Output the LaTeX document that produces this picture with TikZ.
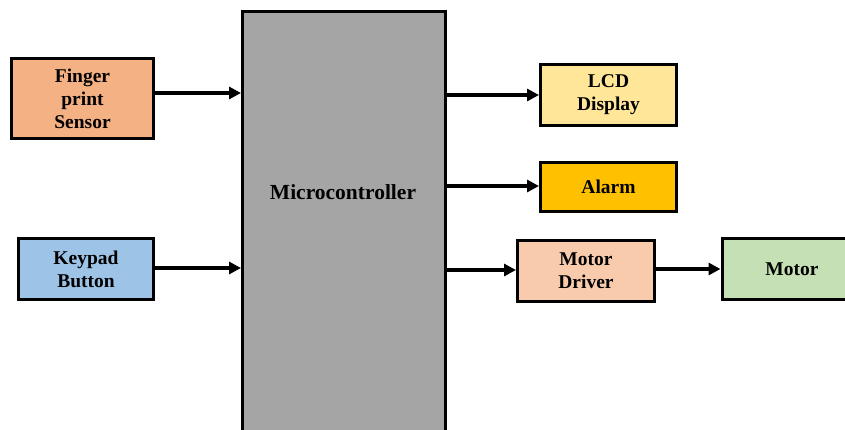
\documentclass[tikz,border=0pt]{standalone}
\usepackage{fontspec}
\setmainfont{Liberation Serif}
\usetikzlibrary{arrows.meta}
\definecolor{cfinger}{HTML}{F4B183}
\definecolor{ckey}{HTML}{9DC3E6}
\definecolor{clcd}{HTML}{FFE699}
\definecolor{calarm}{HTML}{FFC000}
\definecolor{cdriver}{HTML}{F8CBAD}
\definecolor{cmotor}{HTML}{C5E0B4}
\definecolor{cmcu}{HTML}{A5A5A5}
\tikzset{
  blk/.style={draw=black, line width=3pt, inner sep=0pt, align=center,
    font=\fontsize{19.5}{23}\selectfont\bfseries},
  conn/.style={line width=3.2pt, -{Triangle[length=12pt,width=12pt]}},
}
\begin{document}
\begin{tikzpicture}[x=1pt,y=-1pt]
\useasboundingbox (0,0) rectangle (845,430);
\fill[white] (0,0) rectangle (845,430);
\clip (0,0) rectangle (845,430);
\node[blk, fill=cmcu, minimum width=203pt, minimum height=440pt, anchor=north west] (mcu) at (241,10) {};
\node[font=\fontsize{21.5}{24}\selectfont\bfseries] (mcut) at (343,192) {Microcontroller};
\node[blk, fill=cfinger, minimum width=142pt, minimum height=80pt] (fp) at (82.5,98.5) {Finger\\print\\Sensor};
\node[blk, fill=ckey, minimum width=135pt, minimum height=61pt] (kp) at (86,269) {Keypad\\Button};
\node[blk, fill=clcd, minimum width=136pt, minimum height=61pt] (lcd) at (608.5,95) {LCD\\Display};
\node[blk, fill=calarm, minimum width=136pt, minimum height=49pt] (al) at (608.5,187) {Alarm};
\node[blk, fill=cdriver, minimum width=137pt, minimum height=61pt] (md) at (586,271) {Motor\\Driver};
\node[blk, fill=cmotor, minimum width=140pt, minimum height=61pt] (mo) at (792,269) {Motor};
\coordinate (a1) at (154,93);
\coordinate (a2) at (154,268);
\coordinate (b1) at (444,95);
\coordinate (b2) at (446,186);
\coordinate (b3) at (444,270);
\draw[conn] (fp.east |- a1) -- (mcu.west |- a1);
\draw[conn] (kp.east |- a2) -- (mcu.west |- a2);
\draw[conn] (b1) -- (lcd.west |- b1);
\draw[conn] (b2) -- (al.west |- b2);
\draw[conn] (b3) -- (md.west |- b3);
\draw[conn] (md.east |- mo.west) -- (mo.west);
\end{tikzpicture}
\end{document}
